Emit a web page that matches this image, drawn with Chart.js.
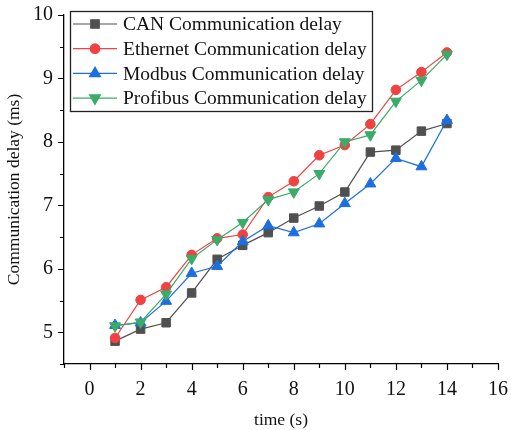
<!DOCTYPE html>
<html>
<head>
<meta charset="utf-8">
<script src="https://cdn.jsdelivr.net/npm/chart.js@4.4.1/dist/chart.umd.min.js"></script>
<style>
html,body{margin:0;padding:0;background:#fff;}
#wrap{width:511px;height:430px;}
</style>
</head>
<body>
<div id="wrap"><canvas id="delayChart" width="511" height="430"></canvas></div>
<script>
// measured delays per protocol
const timeS = [1,2,3,4,5,6,7,8,9,10,11,12,13,14];
const canDelay = [4.86,5.05,5.15,5.62,6.15,6.37,6.57,6.80,6.99,7.21,7.84,7.87,8.17,8.29];
const ethernetDelay = [4.91,5.51,5.71,6.22,6.48,6.54,7.13,7.38,7.79,7.95,8.28,8.82,9.10,9.41];
const modbusDelay = [5.11,5.15,5.49,5.93,6.04,6.43,6.68,6.57,6.71,7.03,7.34,7.74,7.61,8.34];
const profibusDelay = [5.10,5.16,5.60,6.16,6.46,6.73,7.09,7.21,7.50,8.00,8.11,8.64,8.97,9.38];

const xTicks = [0,2,4,6,8,10,12,14,16];
const yTicks = [5,6,7,8,9,10];
const seriesNames = ["CAN Communication delay","Ethernet Communication delay","Modbus Communication delay","Profibus Communication delay"];

const serif = "'Liberation Serif','Times New Roman',serif";

function pts(vals){
return vals.map((v,i)=>({x:timeS[i],y:v}));
}

function makeSet(label,vals,color,style,radius,rot,order){
return {
label:label,
data:pts(vals),
borderColor:color,
backgroundColor:color,
pointBackgroundColor:color,
pointBorderColor:color,
borderWidth:1.2,
pointStyle:style,
pointRadius:radius,
pointRotation:rot,
pointBorderWidth:1,
tension:0,
order:order
};
}

const datasets = [
makeSet(seriesNames[0],canDelay,"#505050","rect",6,0,4),
makeSet(seriesNames[1],ethernetDelay,"#ef4242","circle",4.8,0,3),
makeSet(seriesNames[2],modbusDelay,"#1d6fe0","triangle",6.3,0,2),
makeSet(seriesNames[3],profibusDelay,"#3aab68","triangle",6.3,180,1)
];

// outward tick marks (major + minor) and the boxed legend
const extras = {
id:"extras",
afterDraw(chart){
const c = chart.ctx;
const xs = chart.scales.x, ys = chart.scales.y;
c.save();
c.strokeStyle = "#000";
c.lineWidth = 1.2;
c.beginPath();
for(let v=-1; v<=16; v+=1){
const px = Math.round(xs.getPixelForValue(v))+0.5;
const len = (v%2===0) ? 6 : 4;
c.moveTo(px,xs.top);
c.lineTo(px,xs.top+len);
}
for(let v=4.5; v<=10; v+=0.5){
const py = Math.round(ys.getPixelForValue(v))+0.5;
const len = Number.isInteger(v) ? 6 : 4;
c.moveTo(ys.right,py);
c.lineTo(ys.right-len,py);
}
c.stroke();

// legend
const bx = 70.5, by = 11.5, bw = 302, bh = 100;
c.lineWidth = 1.3;
c.strokeStyle = "#222";
c.fillStyle = "#fff";
c.fillRect(bx,by,bw,bh);
c.strokeRect(bx,by,bw,bh);
c.font = "19.5px " + serif;
c.textBaseline = "middle";
chart.data.datasets.forEach((ds,i)=>{
const yy = 24 + i*24.7;
c.strokeStyle = ds.borderColor;
c.lineWidth = 1.2;
c.beginPath();
c.moveTo(73,yy);
c.lineTo(117,yy);
c.stroke();
c.fillStyle = ds.backgroundColor;
Chart.helpers.drawPoint(c,{pointStyle:ds.pointStyle,rotation:ds.pointRotation,radius:ds.pointRadius,borderWidth:1},95,yy);
c.fillStyle = "#111";
c.fillText(ds.label,123,yy+1);
});
c.restore();
}
};

new Chart(document.getElementById("delayChart"),{
type:"line",
data:{datasets:datasets},
options:{
responsive:false,
animation:false,
layout:{padding:{top:15,right:13,left:0,bottom:0}},
plugins:{legend:{display:false},tooltip:{enabled:false}},
scales:{
x:{
type:"linear",
min:-1,
max:16,
afterBuildTicks(s){ s.ticks = xTicks.map(v=>({value:v})); },
afterFit(s){ s.height = 66; },
grid:{display:true,drawOnChartArea:false,drawTicks:true,tickLength:11,tickColor:"rgba(0,0,0,0)"},
border:{display:true,color:"#000",width:1.3},
ticks:{color:"#111",font:{family:serif,size:20},padding:3,maxRotation:0},
title:{display:true,text:"time (s)",color:"#111",font:{family:serif,size:17.5,lineHeight:1},padding:{top:0,bottom:1}}
},
y:{
min:4.5,
max:10,
afterBuildTicks(s){ s.ticks = yTicks.map(v=>({value:v})); },
afterFit(s){ s.width = 64; },
grid:{display:true,drawOnChartArea:false,drawTicks:true,tickLength:8,tickColor:"rgba(0,0,0,0)"},
border:{display:true,color:"#000",width:1.3},
ticks:{color:"#111",font:{family:serif,size:20},padding:3},
title:{display:true,text:"Communication delay (ms)",color:"#111",font:{family:serif,size:17.5},padding:{top:4,bottom:0}}
}
}
},
plugins:[extras]
});
</script>
</body>
</html>
